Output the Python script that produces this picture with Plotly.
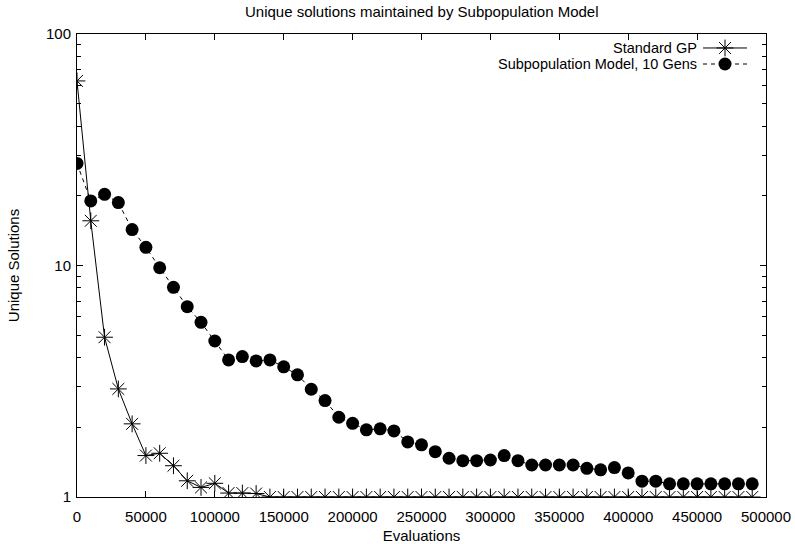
import plotly.graph_objects as go

evaluations = [i * 10000 for i in range(50)]

standard_gp = [62.7, 15.6, 4.9, 2.93, 2.07, 1.51, 1.545, 1.365, 1.175, 1.10,
               1.146, 1.04, 1.04, 1.035, 1.0, 1.0, 1.0, 1.0, 1.0, 1.0,
               1.0, 1.0, 1.0, 1.0, 1.0, 1.0, 1.0, 1.0, 1.0, 1.0,
               1.0, 1.0, 1.0, 1.0, 1.0, 1.0, 1.0, 1.0, 1.0, 1.0,
               1.0, 1.0, 1.0, 1.0, 1.0, 1.0, 1.0, 1.0, 1.0, 1.0]

subpop = [27.6, 19.0, 20.3, 18.7, 14.3, 11.98, 9.78, 8.05, 6.64, 5.68,
          4.72, 3.91, 4.04, 3.87, 3.91, 3.65, 3.37, 2.92, 2.61, 2.21,
          2.08, 1.95, 1.97, 1.93, 1.73, 1.68, 1.57, 1.47, 1.435, 1.435,
          1.445, 1.51, 1.435, 1.375, 1.375, 1.375, 1.375, 1.33, 1.31, 1.34,
          1.27, 1.17, 1.17, 1.14, 1.14, 1.14, 1.14, 1.14, 1.14, 1.14]

x_ticks = [i * 50000 for i in range(11)]
y_ticks = [1, 10, 100]
y_ticktext = ["1", "10", "100"]
y_minor = [m * d for d in (1, 10) for m in range(2, 10)]

names = ["Standard GP", "Subpopulation Model, 10 Gens"]

FONT = "Liberation Sans, Arial, Helvetica, sans-serif"
FS = 15

star = dict(symbol="asterisk-open", size=14, color="black",
            line=dict(color="black", width=1))
dot = dict(symbol="circle", size=13, color="black",
           line=dict(color="black", width=0))

fig = go.Figure()
fig.add_trace(go.Scatter(x=evaluations, y=standard_gp, mode="lines+markers",
                         line=dict(color="black", width=1), marker=star,
                         name=names[0], showlegend=False))
fig.add_trace(go.Scatter(x=evaluations, y=subpop, mode="lines+markers",
                         line=dict(color="black", width=1, dash="4px,4px"),
                         marker=dot, name=names[1], showlegend=False))

# legend samples (gnuplot-style: text left, sample right) on overlay axes
key_x = [0.9086, 0.9405, 0.9724]
key_y = [0.9698, 0.9352]
fig.add_trace(go.Scatter(x=key_x, y=[key_y[0]] * 3, mode="lines",
                         line=dict(color="black", width=1),
                         xaxis="x2", yaxis="y2", showlegend=False, hoverinfo="skip"))
fig.add_trace(go.Scatter(x=[key_x[1]], y=[key_y[0]], mode="markers", marker=star,
                         xaxis="x2", yaxis="y2", showlegend=False, hoverinfo="skip"))
fig.add_trace(go.Scatter(x=key_x, y=[key_y[1]] * 3, mode="lines",
                         line=dict(color="black", width=1, dash="4px,4px"),
                         xaxis="x2", yaxis="y2", showlegend=False, hoverinfo="skip"))
fig.add_trace(go.Scatter(x=[key_x[1]], y=[key_y[1]], mode="markers", marker=dot,
                         xaxis="x2", yaxis="y2", showlegend=False, hoverinfo="skip"))

for name, yy in zip(names, key_y):
    fig.add_annotation(x=0.9015, y=yy, xref="x2", yref="y2", text=name,
                       showarrow=False, xanchor="right", yanchor="middle",
                       borderpad=0,
                       font=dict(family=FONT, size=14.5, color="black"))

fig.update_layout(
    width=795, height=544,
    margin=dict(l=77, r=29, t=34, b=47, autoexpand=False),
    paper_bgcolor="white", plot_bgcolor="white",
    font=dict(family=FONT, size=FS, color="black"),
    title=dict(text="Unique solutions maintained by Subpopulation Model",
               x=0.5305, xanchor="center", y=1 - 12 / 544, yanchor="middle",
               font=dict(family=FONT, size=FS, color="black")),
    xaxis=dict(range=[0, 500000], tickvals=x_ticks,
               ticktext=[str(v) for v in x_ticks], automargin=False,
               ticks="inside", ticklen=6, tickcolor="black", tickwidth=1,
               ticklabelstandoff=6,
               showline=True, linecolor="black", linewidth=1, mirror="ticks",
               showgrid=False, zeroline=False,
               title=dict(text="Evaluations", standoff=6,
                          font=dict(family=FONT, size=FS)),
               tickfont=dict(family=FONT, size=FS)),
    yaxis=dict(type="log", range=[0, 2], tickvals=y_ticks, ticktext=y_ticktext,
               automargin=False,
               ticks="inside", ticklen=6, tickcolor="black", tickwidth=1,
               ticklabelstandoff=2,
               minor=dict(tickvals=y_minor, ticks="inside", ticklen=4,
                          tickcolor="black", tickwidth=1, showgrid=False),
               showline=True, linecolor="black", linewidth=1, mirror="ticks",
               showgrid=False, zeroline=False,
               title=dict(text="Unique Solutions", standoff=22,
                          font=dict(family=FONT, size=FS)),
               tickfont=dict(family=FONT, size=FS)),
    xaxis2=dict(overlaying="x", range=[0, 1], visible=False, fixedrange=True),
    yaxis2=dict(overlaying="y", range=[0, 1], visible=False, fixedrange=True),
)

fig.write_html("out.html")
